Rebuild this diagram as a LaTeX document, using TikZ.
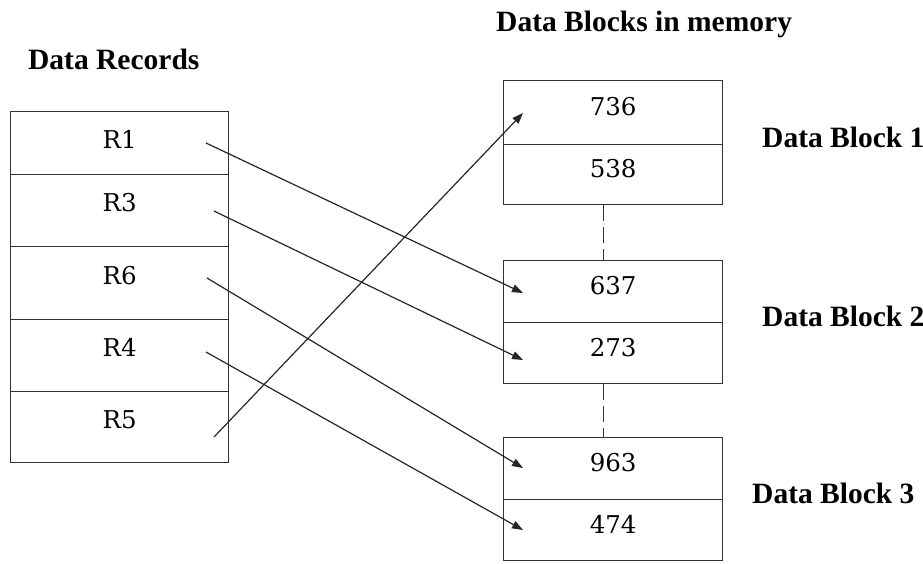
\documentclass[tikz,border=0pt]{standalone}
\usepackage{fontspec}
\setmainfont{Liberation Serif}
\newfontfamily\cellfont{DejaVu Serif}
\usetikzlibrary{arrows.meta}
\begin{document}
\begin{tikzpicture}[x=1pt,y=-1pt,
  cell/.style={draw=black!80,line width=1.3pt,inner sep=0pt,anchor=north west,
    font=\cellfont\fontsize{24.5}{28}\selectfont},
  lcell/.style={cell,minimum width=218pt,text height=14pt,text depth=12pt},
  rcell/.style={cell,minimum width=219pt,text height=16pt,text depth=10pt},
  title/.style={anchor=base west,inner sep=0pt,font=\fontsize{29.5}{32}\bfseries\selectfont},
  link/.style={draw=black!85,line width=1.2pt,-{Triangle[length=11pt,width=8pt]}},
  gap/.style={draw=black!80,line width=1.2pt,dash pattern=on 16pt off 6pt}]
\useasboundingbox (0,0) rectangle (923,563);

% titles
\node[title] (tRec) at (28,69) {Data Records};
\node[title] (tMem) at (496,31) {Data Blocks in memory};
\node[title] (tB1) at (762,147) {Data Block 1};
\node[title] (tB2) at (762,326) {Data Block 2};
\node[title] (tB3) at (752,503) {Data Block 3};

% records
\node[lcell,minimum height=63pt,text height=18pt,text depth=8pt] (r1) at (10,111) {R1};
\node[lcell,minimum height=72pt] (r3) at (10,174) {R3};
\node[lcell,minimum height=73pt] (r6) at (10,246) {R6};
\node[lcell,minimum height=72pt] (r4) at (10,319) {R4};
\node[lcell,minimum height=71pt] (r5) at (10,391) {R5};

% data blocks
\node[rcell,minimum height=64pt] (b736) at (503,80) {736};
\node[rcell,minimum height=60pt] (b538) at (503,144) {538};
\node[rcell,minimum height=62pt] (b637) at (503,260) {637};
\node[rcell,minimum height=61pt] (b273) at (503,322) {273};
\node[rcell,minimum height=62pt] (b963) at (503,437) {963};
\node[rcell,minimum height=61pt] (b474) at (503,499) {474};

% gaps between blocks
\draw[gap] ([xshift=-9.5pt]b538.south) -- ([xshift=-9.5pt]b637.north);
\draw[gap] ([xshift=-9.5pt]b273.south) -- ([xshift=-9.5pt]b963.north);

% arrow ends
\coordinate (s1) at (206,143);
\coordinate (s3) at (214,211);
\coordinate (s6) at (207,278);
\coordinate (s4) at (206,352);
\coordinate (s5) at (214,437);
\coordinate (e736) at (523,113);
\coordinate (e637) at (523,293);
\coordinate (e273) at (523,360);
\coordinate (e963) at (523,468);
\coordinate (e474) at (523,530);

\draw[link] (s1) -- (e637);
\draw[link] (s3) -- (e273);
\draw[link] (s6) -- (e963);
\draw[link] (s4) -- (e474);
\draw[link] (s5) -- (e736);
\end{tikzpicture}
\end{document}
